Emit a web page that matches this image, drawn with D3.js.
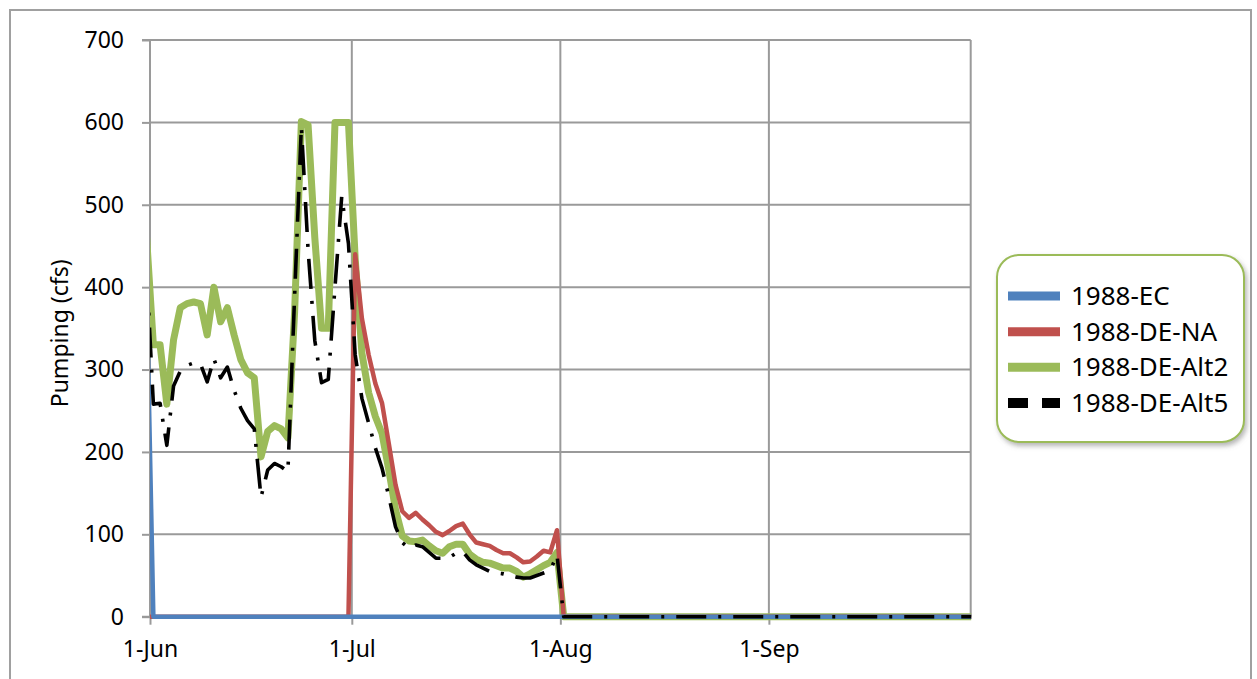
<!DOCTYPE html>
<html>
<head>
<meta charset="utf-8">
<script src="https://cdn.jsdelivr.net/npm/d3@7"></script>
<style>
  html, body { margin: 0; padding: 0; background: #fff; }
  svg { display: block; font-family: "Noto Sans", "Open Sans", sans-serif; }
</style>
</head>
<body>
<svg id="chart" width="1257" height="679"></svg>
<script>
// ---- data (daily values, first point 31-May, last point 1-Oct) ----
const startDay = "1988-05-31";
const seriesNames = ["1988-EC", "1988-DE-NA", "1988-DE-Alt2", "1988-DE-Alt5"];
const monthTickLabels = ["1-Jun", "1-Jul", "1-Aug", "1-Sep"];
const yTicks = [0, 100, 200, 300, 400, 500, 600, 700];
const yTitle = "Pumping (cfs)";

const ec = [400,
  0,0,0,0,0,0,0,0,0,0, 0,0,0,0,0,0,0,0,0,0, 0,0,0,0,0,0,0,0,0,0,
  0,0,0,0,0,0,0,0,0,0, 0,0,0,0,0,0,0,0,0,0, 0,0,0,0,0,0,0,0,0,0, 0,
  0,0,0,0,0,0,0,0,0,0, 0,0,0,0,0,0,0,0,0,0, 0,0,0,0,0,0,0,0,0,0, 0,
  0,0,0,0,0,0,0,0,0,0, 0,0,0,0,0,0,0,0,0,0, 0,0,0,0,0,0,0,0,0,0,
  0];
const deNA = [0,
  0,0,0,0,0,0,0,0,0,0, 0,0,0,0,0,0,0,0,0,0, 0,0,0,0,0,0,0,0,0,0,
  440,362,318,283,259,210,160,128,120,126, 118,111,103,99,104,110,113,100,90,88, 86,81,77,77,72,66,67,73,80,78, 105,
  0,0,0,0,0,0,0,0,0,0, 0,0,0,0,0,0,0,0,0,0, 0,0,0,0,0,0,0,0,0,0, 0,
  0,0,0,0,0,0,0,0,0,0, 0,0,0,0,0,0,0,0,0,0, 0,0,0,0,0,0,0,0,0,0,
  0];
const deAlt2 = [460,
  330,330,258,336,375,380,382,380,342,400, 358,375,342,312,296,290,194,225,232,228, 217,370,601,597,460,350,350,600,600,600,
  435,320,272,243,222,178,130,98,92,91, 93,86,80,77,85,88,88,76,70,66, 65,62,59,59,55,48,52,57,62,66, 78,
  0,0,0,0,0,0,0,0,0,0, 0,0,0,0,0,0,0,0,0,0, 0,0,0,0,0,0,0,0,0,0, 0,
  0,0,0,0,0,0,0,0,0,0, 0,0,0,0,0,0,0,0,0,0, 0,0,0,0,0,0,0,0,0,0,
  0];
const deAlt5 = [420,
  258,259,208,280,298,305,308,307,285,313, 290,303,275,253,238,228,145,178,186,182, 176,390,595,445,335,284,288,400,510,453,
  318,265,235,205,180,146,109,90,83,87, 85,78,71,71,72,77,79,69,63,59, 55,53,52,50,48,47,47,50,53,56, 75,
  0,0,0,0,0,0,0,0,0,0, 0,0,0,0,0,0,0,0,0,0, 0,0,0,0,0,0,0,0,0,0, 0,
  0,0,0,0,0,0,0,0,0,0, 0,0,0,0,0,0,0,0,0,0, 0,0,0,0,0,0,0,0,0,0,
  0];

// ---- layout ----
const W = 1257, H = 679;
const plot = { left: 150, right: 970.7, top: 40, bottom: 616.7 };
const svg = d3.select("#chart");

const day0 = new Date(startDay + "T00:00:00Z");
const dates = ec.map((_, i) => d3.utcHour.offset(d3.utcDay.offset(day0, i), 12));

const x = d3.scaleUtc()
  .domain([new Date("1988-06-01T00:00:00Z"), new Date("1988-10-01T00:00:00Z")])
  .range([plot.left, plot.right]);
const y = d3.scaleLinear().domain([0, 700]).range([plot.bottom, plot.top]);

// outer chart border
svg.append("rect").attr("x", 10).attr("y", 10).attr("width", 1241).attr("height", 700)
  .attr("fill", "#fff").attr("stroke", "#a0a0a0").attr("stroke-width", 2);

const gridColor = "#9a9a9a";
// horizontal gridlines
svg.append("g").selectAll("line").data(yTicks.filter(d => d > 0)).join("line")
  .attr("x1", plot.left).attr("x2", plot.right)
  .attr("y1", d => y(d)).attr("y2", d => y(d))
  .attr("stroke", gridColor).attr("stroke-width", 2);
// vertical gridlines (month starts)
const monthStarts = d3.utcMonth.range(new Date("1988-06-01T00:00:00Z"), new Date("1988-10-02T00:00:00Z"));
svg.append("g").selectAll("line").data(monthStarts.slice(1)).join("line")
  .attr("x1", d => x(d)).attr("x2", d => x(d))
  .attr("y1", plot.top).attr("y2", plot.bottom)
  .attr("stroke", gridColor).attr("stroke-width", 2);

// axes
const yAxis = d3.axisLeft(y).tickValues(yTicks).tickSize(8).tickPadding(18).tickFormat(d3.format("d"));
const gy = svg.append("g").attr("transform", `translate(${plot.left},0)`).call(yAxis);
gy.select(".domain").attr("stroke", gridColor).attr("stroke-width", 2).attr("d", `M-8,${plot.top}H0V${plot.bottom}H-8`);
gy.selectAll(".tick line").attr("stroke", gridColor).attr("stroke-width", 2);
gy.selectAll(".tick text").attr("font-size", 23).attr("fill", "#000")
  .attr("font-family", "Noto Sans, sans-serif");

const xAxis = d3.axisBottom(x).tickValues(monthStarts.slice(0, 4)).tickSize(8).tickPadding(16)
  .tickFormat((d, i) => monthTickLabels[i]);
const gx = svg.append("g").attr("transform", `translate(0,${plot.bottom})`).call(xAxis);
gx.select(".domain").attr("stroke", gridColor).attr("stroke-width", 2).attr("d", `M${plot.left},0H${plot.right}`);
gx.selectAll(".tick line").attr("stroke", gridColor).attr("stroke-width", 2);
gx.selectAll(".tick text").attr("font-size", 23).attr("fill", "#000")
  .attr("font-family", "Noto Sans, sans-serif");

// y title
svg.append("text").attr("transform", `translate(68,${(plot.top + plot.bottom) / 2 + 5}) rotate(-90)`)
  .attr("text-anchor", "middle").attr("font-size", 23).attr("fill", "#000").text(yTitle);

// clip
svg.append("defs").append("clipPath").attr("id", "plotclip")
  .append("rect").attr("x", plot.left).attr("y", 0).attr("width", plot.right - plot.left + 0.5).attr("height", H);

const line = d3.line().x((d, i) => x(dates[i])).y(d => y(d));
const styles = [
  { data: deAlt2, color: "#9bbb59", width: 7,   dash: null },
  { data: deNA,   color: "#c0504d", width: 4.5, dash: null },
  { data: ec,     color: "#4f81bd", width: 4.5, dash: null },
  { data: deAlt5, color: "#000000", width: 3.6, dash: "30,12,3,12" }
];
const lines = svg.append("g").attr("clip-path", "url(#plotclip)");
styles.forEach(s => {
  lines.append("path").attr("d", line(s.data)).attr("fill", "none")
    .attr("stroke", s.color).attr("stroke-width", s.width)
    .attr("stroke-linejoin", "round")
    .attr("stroke-dasharray", s.dash);
});

// legend
const defs = svg.select("defs");
const f = defs.append("filter").attr("id", "shadow").attr("x", "-10%").attr("y", "-10%").attr("width", "130%").attr("height", "130%");
f.append("feDropShadow").attr("dx", 2).attr("dy", 3).attr("stdDeviation", 2.5).attr("flood-color", "#777").attr("flood-opacity", 0.55);

const lg = svg.append("g");
lg.append("rect").attr("x", 997).attr("y", 255).attr("width", 247).attr("height", 187).attr("rx", 22)
  .attr("fill", "#fff").attr("stroke", "#9bbb59").attr("stroke-width", 2).attr("filter", "url(#shadow)");
const legendColors = ["#4f81bd", "#c0504d", "#9bbb59", "#000000"];
const rowY = d3.scaleLinear().domain([0, 3]).range([296, 403]);
seriesNames.forEach((name, i) => {
  const cy = rowY(i);
  lg.append("line").attr("x1", 1008).attr("x2", 1060).attr("y1", cy).attr("y2", cy)
    .attr("stroke", legendColors[i]).attr("stroke-width", i === 3 ? 10 : 9)
    .attr("stroke-dasharray", i === 3 ? "20,14" : null);
  lg.append("text").attr("x", 1071).attr("y", cy + 9).attr("font-size", 26).attr("fill", "#000").text(name);
});
</script>
</body>
</html>
